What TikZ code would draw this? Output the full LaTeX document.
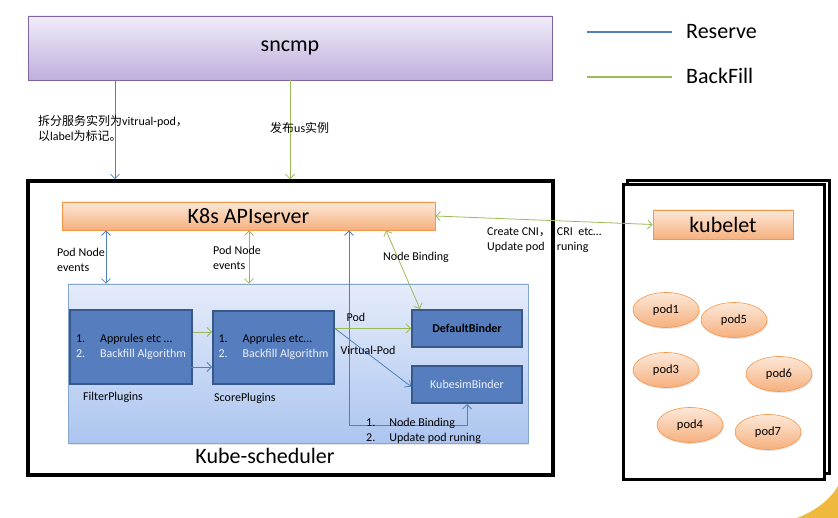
\documentclass[tikz,border=0pt]{standalone}
\usepackage{fontspec}
\setmainfont{Carlito}
\newfontfamily\cjk{Noto Sans CJK SC}
\usetikzlibrary{arrows.meta,shapes.geometric,shadows}
\definecolor{reserve}{RGB}{79,129,189}
\definecolor{backfill}{RGB}{155,187,89}
\definecolor{lilac}{RGB}{128,100,162}
\definecolor{lilactop}{RGB}{241,236,248}
\definecolor{lilacbottom}{RGB}{191,175,221}
\definecolor{ocre}{RGB}{247,150,70}
\definecolor{ocretop}{RGB}{252,232,217}
\definecolor{ocrebottom}{RGB}{246,176,126}
\definecolor{skytop}{RGB}{229,236,250}
\definecolor{skybottom}{RGB}{172,197,240}
\definecolor{plugblue}{RGB}{86,126,190}
\definecolor{plugedge}{RGB}{56,88,138}
\definecolor{pale}{RGB}{236,240,248}
\definecolor{gold}{RGB}{238,185,60}
\tikzset{
  lbl/.style={font=\fontsize{12}{15}\selectfont, inner sep=0pt},
  bigtxt/.style={font=\fontsize{22}{26}\selectfont},
  rsvline/.style={draw=reserve, line width=0.8pt},
  bfline/.style={draw=backfill, line width=0.8pt},
  orangebox/.style={draw=ocre, top color=ocretop, bottom color=ocrebottom, line width=0.8pt,
    drop shadow={opacity=0.2, shadow xshift=1pt, shadow yshift=-1.5pt}},
  plugbox/.style={draw=plugedge, line width=2pt, fill=plugblue, inner sep=0pt,
    font=\fontsize{12}{15}\selectfont},
  podnode/.style={ellipse, draw=ocre, top color=ocretop, bottom color=ocrebottom, line width=0.6pt,
    minimum width=66, minimum height=35, font=\fontsize{12.5}{15}\selectfont,
    drop shadow={opacity=0.2, shadow xshift=1pt, shadow yshift=-1.5pt}}
}
\begin{document}
\begin{tikzpicture}[x=1pt,y=-1pt,>={Straight Barb[length=4.5pt,width=9pt]}]
\useasboundingbox (0,0) rectangle (838,518);
\fill [gold] (797,518) .. controls (815,511) and (830,500) .. (838,486) -- (838,518) -- cycle;
% top part
\node [draw=lilac, line width=0.8pt, top color=lilactop, bottom color=lilacbottom,
  minimum width=524, minimum height=64, bigtxt,
  drop shadow={opacity=0.2, shadow xshift=1pt, shadow yshift=-1.5pt}] (sncmp) at (290,48) {sncmp};
\draw [reserve, line width=2.2pt] (587,32) -- (672,32);
\draw [backfill, line width=2.2pt] (587,77) -- (672,77);
\node [bigtxt, anchor=west, inner sep=0pt] (reservekey) at (686,32) {Reserve};
\node [bigtxt, anchor=west, inner sep=0pt] (backfillkey) at (686,76) {BackFill};
% scheduler side
\node [draw, line width=3.5pt, minimum width=525, minimum height=294] (schedframe) at (290.5,328) {};
\node [orangebox, minimum width=373, minimum height=28, bigtxt, inner sep=0pt] (apiserver) at (248.5,216) {K8s APIserver};
\node [draw=reserve!70, line width=0.6pt, top color=skytop, bottom color=skybottom,
  minimum width=460, minimum height=159,
  drop shadow={opacity=0.2, shadow xshift=1pt, shadow yshift=-1.5pt}] (schedinner) at (298,363.5) {};
\node [plugbox, minimum width=122, minimum height=74] (filter) at (131,347)
  {\begin{tabular}{@{}l@{\hspace{15pt}}l@{}}1. & Apprules etc … \\ \color{pale}2. & \color{pale}Backfill Algorithm\end{tabular}};
\node [plugbox, minimum width=121, minimum height=73] (score) at (273.5,347.5)
  {\begin{tabular}{@{}l@{\hspace{15pt}}l@{}}1. & Apprules etc… \\ \color{pale}2. & \color{pale}Backfill Algorithm\end{tabular}};
\node [plugbox, minimum width=110, minimum height=37, font=\fontsize{12}{15}\selectfont\bfseries] (defbinder) at (467,328.5) {DefaultBinder};
\node [plugbox, minimum width=110, minimum height=37, text=pale] (simbinder) at (467,384.5) {KubesimBinder};
\node [lbl, anchor=west] (filterlbl) at (83,397) {FilterPlugins};
\node [lbl, anchor=west] (scorelbl) at (214,398) {ScorePlugins};
\node [bigtxt, inner sep=0pt] (schedlbl) at (265,456) {Kube-scheduler};
% node side
\node [draw, fill=white, line width=3pt, minimum width=202, minimum height=292] (backframe) at (728,327) {};
\node [draw, fill=white, line width=3pt, minimum width=201, minimum height=294] (nodeframe) at (723.5,332) {};
\node [orangebox, minimum width=140, minimum height=29, bigtxt, inner sep=0pt] (kubelet) at (723,224.5) {kubelet};
\node [podnode] (pod1) at (666,310) {pod1};
\node [podnode] (pod5) at (734,320) {pod5};
\node [podnode] (pod3) at (666,370) {pod3};
\node [podnode] (pod6) at (779,374) {pod6};
\node [podnode] (pod4) at (690,425) {pod4};
\node [podnode] (pod7) at (768,432) {pod7};
% connectors
\coordinate (colA) at (115,0);
\coordinate (colB) at (290,0);
\coordinate (colC) at (106,0);
\coordinate (colD) at (249,0);
\coordinate (colE) at (349,0);
\coordinate (colF) at (386,0);
\coordinate (colG) at (420,0);
\coordinate (rowA) at (0,332);
\coordinate (rowB) at (0,367);
\coordinate (bindturn) at (467,425);
\draw [rsvline,->] (sncmp.south -| colA) -- (schedframe.north -| colA);
\draw [bfline,->] (sncmp.south -| colB) -- (schedframe.north -| colB);
\draw [rsvline,<->] (apiserver.south -| colC) -- (schedinner.north -| colC);
\draw [bfline,<->] (apiserver.south -| colD) -- (schedinner.north -| colD);
\draw [rsvline,<->] (apiserver.south -| colE) |- (bindturn) -- (simbinder.south);
\draw [bfline,<->] (apiserver.south -| colF) -- (defbinder.north -| colG);
\draw [bfline,<->] (apiserver.east) -- (kubelet.west);
\draw [bfline,->] (filter.east |- rowA) -- (score.west |- rowA);
\draw [rsvline,->] ([xshift=-14pt]filter.east |- rowB) -- (score.west |- rowB);
\draw [bfline,->] (score.east |- defbinder.west) -- (defbinder.west);
\draw [rsvline,->] (score.east |- defbinder.west) -- ([yshift=-2pt]simbinder.west);
% labels
\node [lbl, anchor=west, align=left] (splitlbl) at (38,128.5)
  {{\cjk 拆分服务实列为}vitrual-pod{\cjk ，}\\{\cjk 以}label{\cjk 为标记。}};
\node [lbl, anchor=west] (publbl) at (270,128) {{\cjk 发布}us{\cjk 实例}};
\node [lbl, anchor=west, align=left] (eventsA) at (57,259.5) {Pod Node\\events};
\node [lbl, anchor=west, align=left] (eventsB) at (213,257.5) {Pod Node\\events};
\node [lbl, anchor=west] (bindlbl) at (383,257) {Node Binding};
\node [lbl, anchor=west] (cnilbl) at (487,240.5)
  {\begin{tabular}{@{}l@{\hspace{6pt}}l@{}}Create CNI{\cjk ，} & CRI\ \ etc… \\ Update pod & runing\end{tabular}};
\node [lbl] (podlbl) at (356,317) {Pod};
\node [lbl] (vpodlbl) at (368,350) {Virtual-Pod};
\node [lbl, anchor=west] (steplbl) at (366,430.5)
  {\begin{tabular}{@{}l@{\hspace{14pt}}l@{}}1. & Node Binding \\ 2. & Update pod runing\end{tabular}};
\end{tikzpicture}
\end{document}
